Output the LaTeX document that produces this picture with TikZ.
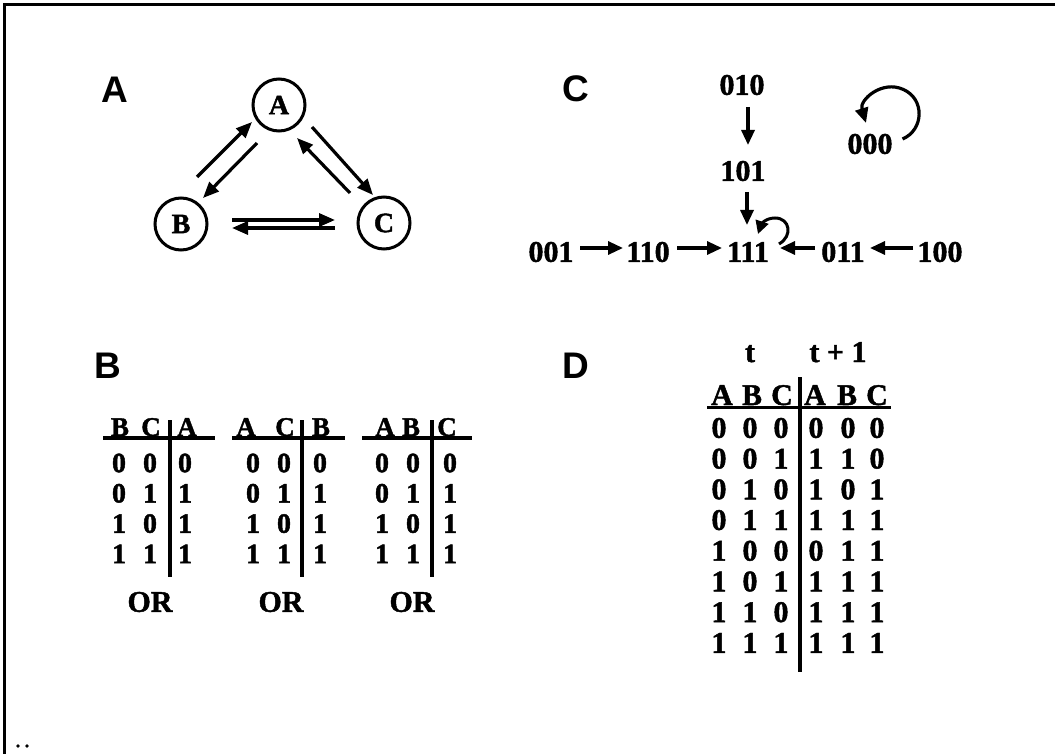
\documentclass[tikz,border=0pt]{standalone}
\usepackage{fontspec}
\setmainfont{Liberation Serif}[BoldFeatures={FakeBold=1.5}]
\newfontfamily\labfont{Liberation Sans}
\usetikzlibrary{arrows.meta,calc}
\begin{document}
\begin{tikzpicture}[x=1pt,y=-1pt,
  panel/.style={font=\labfont\bfseries\fontsize{37}{37}\selectfont, anchor=base, inner sep=0pt},
  state/.style={circle, draw, line width=3pt, minimum size=52pt, inner sep=0pt, font=\bfseries\fontsize{28}{28}\selectfont},
  arrA/.style={line width=3.2pt, -{Triangle[length=16pt,width=13pt]}},
  arrC/.style={line width=3.2pt, -{Triangle[length=15pt,width=13pt]}},
  cnum/.style={font=\bfseries\fontsize{30}{30}\selectfont, inner sep=0pt},
  tbh/.style={font=\bfseries\fontsize{27}{27}\selectfont, inner sep=0pt, anchor=base},
  tbd/.style={font=\bfseries\fontsize{28}{28}\selectfont, inner sep=0pt},
  tdh/.style={font=\bfseries\fontsize{30}{30}\selectfont, inner sep=0pt, anchor=base},
  tdd/.style={font=\bfseries\fontsize{30}{30}\selectfont, inner sep=0pt},
  rule/.style={line width=3.2pt},
  vrule/.style={line width=4pt}
]
\useasboundingbox (0,0) rectangle (1055,754);
\fill[white] (0,0) rectangle (1055,754);

% frame (top and left edges only) and stray dots
\draw[line width=3pt] (4,754) -- (4,5) -- (1055,5);
\fill (18,746) circle (1.8pt);
\fill (27,746) circle (1.8pt);

% panel labels
\node[panel] (labA) at (115,103) {A};
\node[panel] (labC) at (576,102) {C};
\node[panel] (labB) at (108,378) {B};
\node[panel] (labD) at (576,378) {D};

% ---------- Panel A ----------
\node[state] (A) at (279,105) {A};
\node[state] (B) at (181,224) {B};
\node[state] (C) at (384,223) {C};
\draw[arrA] ($(B)+(16,-47)$) -- ($(A)+(-27,17)$);
\draw[arrA] ($(A)+(-22,38)$) -- ($(B)+(22,-26)$);
\draw[arrA] ($(A)+(33,22)$) -- ($(C)+(-11,-28)$);
\draw[arrA] ($(C)+(-34,-30)$) -- ($(A)+(18,33)$);
\draw[arrA] ($(B)+(51,-4)$) -- ($(C)+(-49,-3)$);
\draw[arrA] ($(C)+(-49,5)$) -- ($(B)+(51,4)$);

% ---------- Panel C ----------
\node[cnum] (s010) at (742,85) {010};
\node[cnum] (s101) at (743,171) {101};
\node[cnum] (s000) at (870,144) {000};
\node[cnum] (s001) at (551,252) {001};
\node[cnum] (s110) at (648,252) {110};
\node[cnum] (s111) at (748,252) {111};
\node[cnum] (s011) at (843,252) {011};
\node[cnum] (s100) at (940,252) {100};
\draw[arrC] ($(s010)+(6,22)$) -- ($(s101)+(5,-26)$);
\draw[arrC] ($(s101)+(4,21)$) -- ($(s111)+(-1,-27)$);
\draw[arrC] ($(s001)+(29,-4)$) -- ($(s110)+(-25,-4)$);
\draw[arrC] ($(s110)+(29,-4)$) -- ($(s111)+(-26,-4)$);
\draw[arrC] ($(s011)+(-28,-4)$) -- ($(s111)+(32,-4)$);
\draw[arrC] ($(s100)+(-27,-4)$) -- ($(s011)+(27,-4)$);
\draw[line width=3pt, -{Triangle[length=13pt,width=13pt]}]
  ($(s111)+(31,-8)$) .. controls ($(s111)+(45,-16)$) and ($(s111)+(42,-34)$) ..
  ($(s111)+(27,-34)$) .. controls ($(s111)+(17,-34)$) and ($(s111)+(13,-27)$) ..
  ($(s111)+(10,-18)$);
\draw[arrC]
  ($(s000)+(32.5,-5)$) .. controls ($(s000)+(54,-14)$) and ($(s000)+(55,-45)$) ..
  ($(s000)+(33.4,-54.5)$) .. controls ($(s000)+(12,-64.4)$) and ($(s000)+(-11,-44)$) ..
  ($(s000)+(-4,-21)$);

% ---------- Panel B ----------
% table 1: B C | A
\node[tbh] (h1a) at (120,436) {B};
\node[tbh] (h1b) at (151,436) {C};
\node[tbh] (h1c) at (187,436) {A};
\draw[rule] (103,438) -- (215,438);
\draw[vrule] (169.5,420) -- (169.5,577);
% table 2: A C | B
\node[tbh] (h2a) at (246,436) {A};
\node[tbh] (h2b) at (285,436) {C};
\node[tbh] (h2c) at (321,436) {B};
\draw[rule] (232,438) -- (345,438);
\draw[vrule] (301.5,420) -- (301.5,577);
% table 3: A B | C
\node[tbh] (h3a) at (385,436) {A};
\node[tbh] (h3b) at (411,436) {B};
\node[tbh] (h3c) at (447,436) {C};
\draw[rule] (362,438) -- (472,438);
\draw[vrule] (431.5,420) -- (431.5,577);
\foreach \a/\b/\c [count=\i] in {0/0/0,0/1/1,1/0/1,1/1/1} {
  \pgfmathsetmacro\yy{463+30.3*(\i-1)}
  \node[tbd] (p\i-1) at (119,\yy) {\a};
  \node[tbd] (p\i-2) at (150,\yy) {\b};
  \node[tbd] (p\i-3) at (185,\yy) {\c};
  \node[tbd] (q\i-1) at (253,\yy) {\a};
  \node[tbd] (q\i-2) at (284,\yy) {\b};
  \node[tbd] (q\i-3) at (320,\yy) {\c};
  \node[tbd] (r\i-1) at (382,\yy) {\a};
  \node[tbd] (r\i-2) at (413,\yy) {\b};
  \node[tbd] (r\i-3) at (450,\yy) {\c};
}
\node[tdd] (or1) at (150,602) {OR};
\node[tdd] (or2) at (281,602) {OR};
\node[tdd] (or3) at (412,602) {OR};

% ---------- Panel D ----------
\node[tdh] (tt) at (750,362) {t};
\node[tdh] (tt1) at (838,362) {t + 1};
\foreach \x/\l [count=\i] in {722/A,752/B,782/C,815/A,847/B,877/C} {
  \node[tdh] (dh\i) at (\x,405) {\l};
}
\draw[rule] (707,407.5) -- (891,407.5);
\draw[vrule] (800,377) -- (800,672);
\foreach \a/\b/\c/\d/\e/\f [count=\i] in {0/0/0/0/0/0,0/0/1/1/1/0,0/1/0/1/0/1,0/1/1/1/1/1,1/0/0/0/1/1,1/0/1/1/1/1,1/1/0/1/1/1,1/1/1/1/1/1} {
  \pgfmathsetmacro\yy{428+30.7*(\i-1)}
  \node[tdd] (d\i-1) at (719,\yy) {\a};
  \node[tdd] (d\i-2) at (750,\yy) {\b};
  \node[tdd] (d\i-3) at (781,\yy) {\c};
  \node[tdd] (d\i-4) at (816,\yy) {\d};
  \node[tdd] (d\i-5) at (848,\yy) {\e};
  \node[tdd] (d\i-6) at (877,\yy) {\f};
}
\end{tikzpicture}
\end{document}
